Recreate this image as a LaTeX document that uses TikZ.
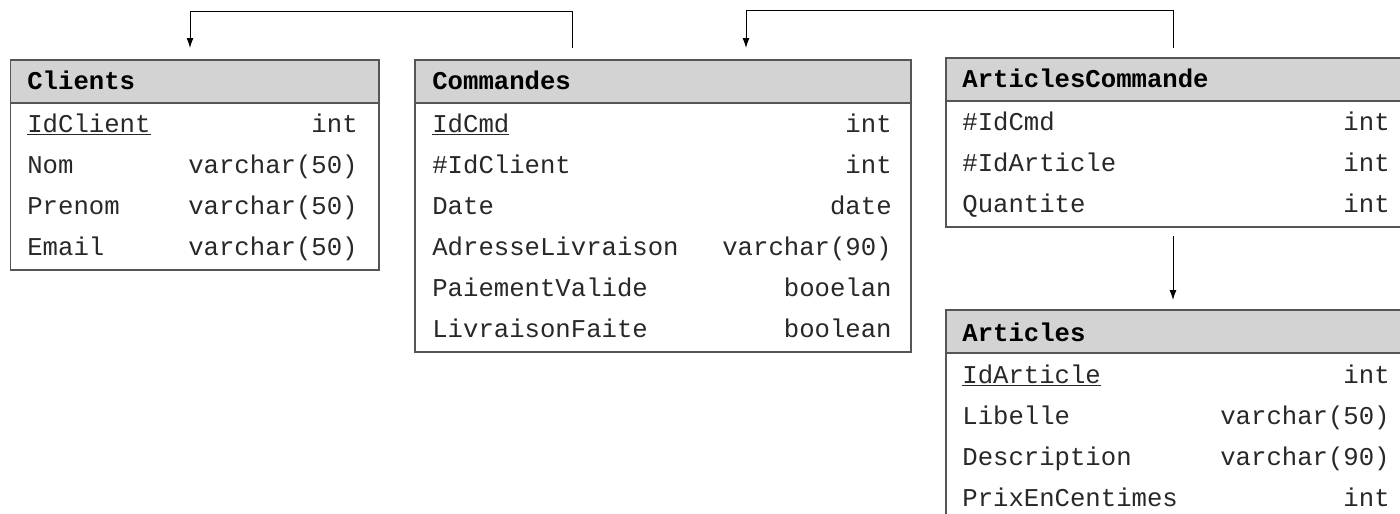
\documentclass[tikz,border=0pt]{standalone}
\usepackage{fontspec}
\setmonofont{Liberation Mono}
\usetikzlibrary{arrows.meta}

\definecolor{hdrgray}{RGB}{211,211,211}
\definecolor{tblline}{RGB}{85,85,85}
\definecolor{fldtext}{RGB}{40,40,40}

\tikzset{
  tblbox/.style={draw=tblline, line width=0.03cm, fill=white, anchor=north west, inner sep=0pt},
  tblhead/.style={draw=tblline, line width=0.03cm, fill=hdrgray, anchor=north west, inner sep=0pt, minimum height=43*0.02cm},
  hdrtext/.style={anchor=base west, inner sep=0pt, font=\ttfamily\bfseries\fontsize{14.6pt}{16pt}\selectfont},
  fldname/.style={anchor=base west, inner sep=0pt, text=fldtext, font=\ttfamily\fontsize{14.6pt}{16pt}\selectfont},
  fldtype/.style={anchor=base east, inner sep=0pt, text=fldtext, font=\ttfamily\fontsize{14.6pt}{16pt}\selectfont},
  fk/.style={line width=0.02cm, -{Latex[length=0.2cm,width=0.14cm]}}
}

\begin{document}
\begin{tikzpicture}[x=0.02cm,y=-0.02cm]
  \useasboundingbox (0,0) rectangle (1400,514);

  % Table Clients
  \node[tblbox, minimum width=368*0.02cm, minimum height=210*0.02cm] (cli) at (10,59) {};
  \node[tblhead, minimum width=368*0.02cm] (cliHead) at (10,59) {};
  \node[hdrtext] (cliName) at (27,89) {Clients};
  \foreach \fld/\typ [count=\i] in {\underline{IdClient}/int, Nom/varchar(50), Prenom/varchar(50), Email/varchar(50)}
  {
    \node[fldname] (cliF\i) at (27,132+41*\i-41) {\fld};
    \node[fldtype] (cliT\i) at (358,132+41*\i-41) {\typ};
  }

  % Table Commandes
  \node[tblbox, minimum width=496*0.02cm, minimum height=292*0.02cm] (cmd) at (414,59) {};
  \node[tblhead, minimum width=496*0.02cm] (cmdHead) at (414,59) {};
  \node[hdrtext] (cmdName) at (432,89) {Commandes};
  \foreach \fld/\typ [count=\i] in {\underline{IdCmd}/int, \#IdClient/int, Date/date, AdresseLivraison/varchar(90), PaiementValide/booelan, LivraisonFaite/boolean}
  {
    \node[fldname] (cmdF\i) at (432,132+41*\i-41) {\fld};
    \node[fldtype] (cmdT\i) at (892,132+41*\i-41) {\typ};
  }

  % Table ArticlesCommande
  \node[tblbox, minimum width=465*0.02cm, minimum height=169*0.02cm] (ac) at (945,57) {};
  \node[tblhead, minimum width=465*0.02cm] (acHead) at (945,57) {};
  \node[hdrtext] (acName) at (962,87) {ArticlesCommande};
  \foreach \fld/\typ [count=\i] in {\#IdCmd/int, \#IdArticle/int, Quantite/int}
  {
    \node[fldname] (acF\i) at (962,130+41*\i-41) {\fld};
    \node[fldtype] (acT\i) at (1390,130+41*\i-41) {\typ};
  }

  % Table Articles
  \node[tblbox, minimum width=465*0.02cm, minimum height=240*0.02cm] (art) at (945,309) {};
  \node[tblhead, minimum width=465*0.02cm] (artHead) at (945,309) {};
  \node[hdrtext] (artName) at (962,341) {Articles};
  \foreach \fld/\typ [count=\i] in {\underline{IdArticle}/int, Libelle/varchar(50), Description/varchar(90), PrixEnCentimes/int}
  {
    \node[fldname] (artF\i) at (962,383+41*\i-41) {\fld};
    \node[fldtype] (artT\i) at (1390,383+41*\i-41) {\typ};
  }

  % Foreign keys
  \coordinate (cmdOut) at (572,48);
  \coordinate (cliIn) at (190,48);
  \coordinate (acOut) at (1173,48);
  \coordinate (cmdIn) at (746,48);
  \coordinate (acDown) at (1173,236);
  \coordinate (artIn) at (1173,300);

  \draw[fk] (cmdOut) -- ++(0,-37) -| (cliIn);
  \draw[fk] (acOut) -- ++(0,-38) -| (cmdIn);
  \draw[fk] (acDown) -- (artIn);
\end{tikzpicture}
\end{document}
